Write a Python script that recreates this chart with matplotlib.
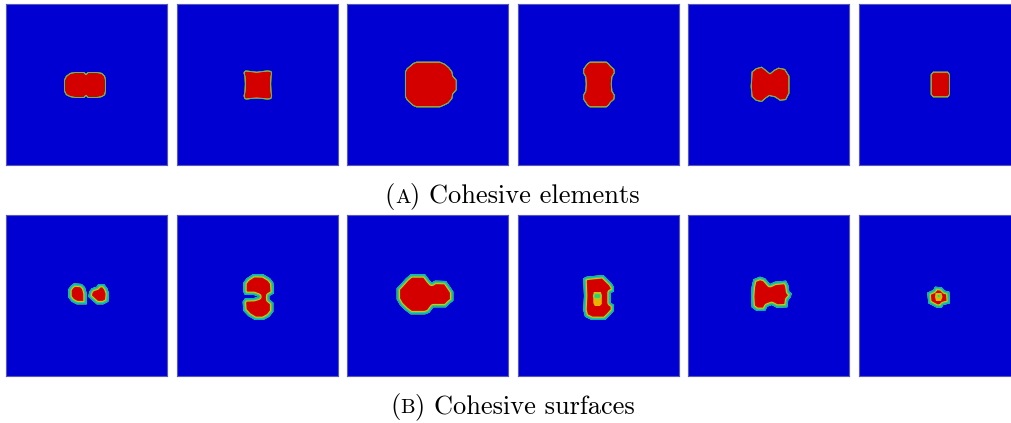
import numpy as np
import matplotlib.pyplot as plt
from matplotlib.patches import Polygon

# Damage maps: outlines of the fully damaged (red) zone in each panel,
# in panel pixel units (0..161, y pointing down)

# (A) cohesive elements
elem_1 = [(58, 76), (60, 72), (64, 69), (69, 68), (78, 68), (80, 70), (82, 68), (91, 68),
          (96, 69), (99, 72), (100, 76), (100, 87), (99, 91), (96, 93), (91, 94), (82, 94),
          (80, 92), (78, 94), (69, 94), (64, 93), (60, 91), (58, 87)]
elem_2 = [(67.5, 67.5), (69, 66.5), (74, 67), (80, 67.8), (86, 67), (91, 66.5), (94.5, 67),
          (95.5, 69), (94.8, 73), (94.5, 80), (94.8, 87), (95.5, 92), (94.5, 95), (91, 95.5),
          (86, 95), (80, 94.5), (74, 95), (70, 95.5), (68, 95), (67, 92), (68, 87), (68.3, 80),
          (68, 73), (67, 69)]
elem_3 = [(69.5, 57.7), (92.8, 57.7), (98, 60), (102, 63.5), (105, 67.5), (106, 72), (109.5, 76),
          (109.5, 86), (106, 90), (105, 95), (101, 99.5), (97, 101.5), (92.8, 103.3), (69.5, 103.3),
          (66, 102), (62.5, 99), (59.5, 96), (57.8, 92.7), (57.8, 67.7), (59.5, 64.5), (62.5, 62),
          (66, 59)]
elem_4 = [(72, 57.7), (88.7, 57.7), (91, 59.5), (93, 62), (96.5, 65), (97, 69), (94.5, 73), (94, 80),
          (94.5, 87), (97, 91), (96.5, 95.5), (93, 98.5), (91, 101.5), (88.7, 103.3), (72, 103.3),
          (69.5, 101.5), (67.5, 98.5), (65.5, 95.5), (65.3, 91), (67.5, 87), (68, 80), (67.5, 73),
          (65.3, 69), (65.5, 65), (67.5, 62), (69.5, 59.5)]
elem_5 = [(63.3, 67.7), (67.6, 64.3), (73.3, 62.7), (77.6, 66), (81.6, 69.3), (85.6, 66), (90, 63.7),
          (96.6, 65), (101, 72), (101, 89.3), (97.6, 96), (91.6, 96.7), (86.6, 93.3), (81, 92),
          (77.6, 94.3), (73.3, 98), (67.6, 96.7), (63.3, 92.7), (62.3, 82.7)]
elem_6 = [(74, 67.7), (89, 67.7), (91, 70.5), (91, 90.5), (89, 93.3), (74, 93.3), (71.7, 90.5),
          (71.7, 70.5)]

# (B) cohesive surfaces
surf_1a = [(64.7, 71), (68, 68.3), (75.7, 69), (79, 72.3), (80.7, 78.3), (80.7, 89.3), (70.7, 89.3),
           (65.7, 86.7), (62.3, 82.3), (62.3, 74.3)]
surf_1b = [(85.7, 73.3), (90.7, 71.7), (92.3, 69), (98, 69), (101.3, 73.3), (103, 78.3), (102.3, 86.7),
           (97.3, 89.3), (90.7, 89.3), (86.7, 85.7), (82.3, 81.7), (83.3, 76.7)]
surf_2 = [(70.1, 63.3), (76.7, 59), (86.7, 59.3), (93.4, 63.3), (96.7, 67.7), (97.4, 78.3), (92.7, 81),
          (92.7, 84.3), (96.7, 87.7), (96.7, 96.7), (92.7, 101.7), (86.7, 105), (78.4, 105),
          (71.7, 101), (66.7, 95.7), (66.1, 86.7), (68.4, 83.3), (77.4, 83), (81.7, 81.7),
          (77.4, 80), (68.4, 80), (66.7, 76.7), (66.7, 67.7)]
surf_3 = [(52.8, 70), (58.8, 63.3), (63.5, 59.3), (77.8, 59.3), (82.1, 65), (84.5, 67.7), (87.8, 65.7),
          (98.8, 66), (102.8, 71.7), (106.1, 76.7), (106.1, 85.7), (102.8, 88.3), (98.8, 92.3),
          (86.1, 92.3), (82.1, 97.7), (77.8, 99.3), (63.5, 99.3), (57.8, 95), (52.8, 90),
          (49.5, 84.3), (49.5, 73.3)]
surf_4 = [(68.9, 61.7), (85.5, 60), (90.5, 65), (93.9, 68.3), (96.2, 72.3), (96.2, 76.7), (92.9, 77.7),
          (92.9, 87.7), (96.2, 90), (96.2, 95.7), (91.5, 101), (87.2, 105), (73.9, 105), (67.2, 101.7),
          (65.5, 95), (66.2, 81), (65.5, 63.3)]
surf_4_soft = [(76, 77), (83, 77), (84, 80), (84, 89), (82, 91), (77, 91), (75.5, 88), (75.5, 80)]
surf_4_hole = [(77, 78.5), (82, 78.5), (83.5, 81), (82, 83.5), (77, 83.5), (75.5, 81)]
surf_5 = [(65, 64.3), (71.6, 61.7), (76.6, 63.3), (81.6, 69), (86.6, 66.7), (97.6, 65.7), (99.9, 70),
          (100.9, 76.7), (103.3, 78.3), (102.3, 82.3), (99.9, 85), (98.9, 92.3), (88.3, 92.7),
          (83.3, 90), (78.9, 91.7), (76.6, 96), (68.3, 96), (63.3, 92.3), (62.6, 81.7), (63.3, 71.7)]
surf_6 = [(76, 71.7), (82.7, 72.3), (86, 75.7), (90.3, 76.7), (91, 88.3), (84.3, 90), (82.7, 92.7),
          (77.7, 92.7), (72.7, 90), (69.3, 88.3), (68.3, 77.7), (74.3, 75)]
surf_6_soft = [(76.5, 78), (82.5, 78), (83.5, 82), (82, 86), (77, 86), (76, 82)]
surf_6_hole = [(78, 79.5), (81, 79.5), (81.5, 82.5), (78.5, 83)]

row_elements = [[elem_1], [elem_2], [elem_3], [elem_4], [elem_5], [elem_6]]
row_surfaces = [[surf_1a, surf_1b], [surf_2], [surf_3], [surf_4], [surf_5], [surf_6]]
soft_zones = {3: (surf_4_soft, surf_4_hole), 5: (surf_6_soft, surf_6_hole)}

captions = [('A', 'Cohesive elements'), ('B', 'Cohesive surfaces')]

W, H = 1012, 423
PANEL = 161
panel_left = [6, 176.6, 347.2, 517.8, 688.4, 859]
row_top = [4, 215]
caption_base = [202.5, 413]

BLUE = '#0000d2'
RED = '#d40000'
# (colour, band width in px) drawn inside the outline, widest first
thin_bands = [('#d8c800', 1.0), ('#30d070', 0.6), ('#00a8d0', 0.3)]
wide_bands = [('#e0c800', 3.4), ('#30d070', 2.4), ('#00b0d0', 1.2)]


def draw_blob(ax, pts, bands):
    face = Polygon(pts, closed=True, facecolor=RED, edgecolor='none', zorder=2)
    ax.add_patch(face)
    for color, width in bands:
        ring = Polygon(pts, closed=True, facecolor='none', edgecolor=color,
                       lw=2 * width * 0.72, joinstyle='round', zorder=3)
        ring.set_clip_path(face)
        ax.add_patch(ring)


fig = plt.figure(figsize=(W / 100, H / 100), dpi=100)

for r, (row, bands) in enumerate([(row_elements, thin_bands), (row_surfaces, wide_bands)]):
    for c, blobs in enumerate(row):
        x0 = panel_left[c]
        y0 = row_top[r]
        ax = fig.add_axes([x0 / W, 1 - (y0 + PANEL) / H, PANEL / W, PANEL / H])
        ax.set_facecolor(BLUE)
        ax.set_xlim(0, PANEL)
        ax.set_ylim(PANEL, 0)
        ax.set_xticks([])
        ax.set_yticks([])
        for s in ax.spines.values():
            s.set_color('#5858b8')
            s.set_linewidth(0.8)
        for pts in blobs:
            draw_blob(ax, pts, bands)
        if r == 1 and c in soft_zones:
            soft, hole = soft_zones[c]
            ax.add_patch(Polygon(soft, closed=True, facecolor='#e8b400', edgecolor='none', zorder=4))
            ax.add_patch(Polygon(hole, closed=True, facecolor='#30d070', edgecolor='#90d830',
                                 lw=0.8, zorder=5))

# captions with a small-caps letter
renderer = fig.canvas.get_renderer()
fs = 19
for (letter, rest), base in zip(captions, caption_base):
    yf = 1 - base / H
    parts = [('(', fs), (letter, fs * 0.78), (') ' + rest, fs)]
    texts = []
    widths = []
    for s, size in parts:
        t = fig.text(0, yf, s, fontsize=size, family='cmr10', ha='left', va='baseline')
        texts.append(t)
        widths.append(t.get_window_extent(renderer).width / W)
    x = 512.5 / W - sum(widths) / 2
    for t, w in zip(texts, widths):
        t.set_x(x)
        x += w

fig.savefig('out.png', dpi=100)
